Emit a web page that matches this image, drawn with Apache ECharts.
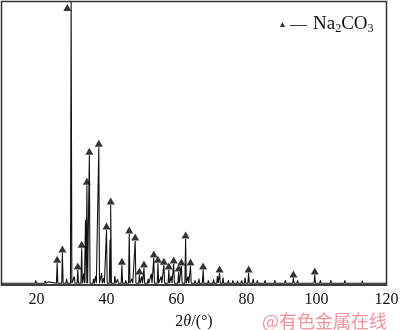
<!DOCTYPE html>
<html>
<head>
<meta charset="utf-8">
<script src="https://cdn.jsdelivr.net/npm/echarts@6/dist/echarts.min.js"></script>
<style>
html, body { margin: 0; padding: 0; background: #fff; }
#chart { width: 400px; height: 330px; }
</style>
</head>
<body>
<div id="chart"></div>
<script>
// Na2CO3 reflections, 2theta in degrees, intensity in % of frame height
var peakAngles = [25.9, 27.4, 29.9, 31.8, 32.9, 34.0, 34.4, 35.1, 37.8, 40.0, 41.0, 41.2, 44.4, 46.5, 48.2, 49.4, 50.7, 53.5, 54.7, 56.4, 57.8, 59.2, 60.6, 61.4, 62.6, 64.0, 67.6, 72.3, 80.6, 93.4, 99.5];
var peakHeights = [7.7, 11.3, 100, 5.3, 13.0, 23.0, 35.2, 45.8, 48.6, 19.4, 16.0, 28.2, 7.0, 18.0, 15.5, 3.5, 6.0, 9.5, 7.7, 7.0, 5.3, 7.4, 4.6, 6.7, 16.2, 6.7, 5.3, 4.2, 4.2, 2.5, 3.5];

// triangle markers (the one for the strongest line sits just left of it, inside the frame)
var markAngles = [25.9, 27.4, 28.8, 31.8, 32.9, 34.4, 35.1, 37.8, 40.0, 41.2, 44.4, 46.5, 48.2, 49.4, 50.7, 53.5, 54.7, 56.4, 57.8, 59.2, 60.6, 61.4, 62.6, 64.0, 67.6, 72.3, 80.6, 93.4, 99.5];
var markHeights = [7.7, 11.3, 96.5, 5.3, 13.0, 35.2, 45.8, 48.6, 19.4, 28.2, 7.0, 18.0, 15.5, 3.5, 6.0, 9.5, 7.7, 7.0, 5.3, 7.4, 4.6, 6.7, 16.2, 6.7, 5.3, 4.2, 4.2, 2.5, 3.5];

// small background bumps
var minorAngles = [12.5, 14.8, 16.4, 18.2, 19.8, 21.0, 22.5, 23.4, 28.6, 30.8, 33.5, 36.3, 36.9, 38.6, 39.2, 42.4, 43.2, 45.5, 47.3, 50.1, 51.9, 52.8, 55.6, 58.5, 63.3, 65.3, 66.4, 69.1, 70.6, 71.7, 73.3, 74.8, 76.1, 77.4, 78.6, 79.6, 81.9, 83.1, 84.4, 85.3, 86.6, 88.1, 89.6, 91.1, 92.4, 94.6, 96.1, 97.6, 101.1, 102.6, 104.1, 106.2, 108.1, 110.2, 113.1, 116.2];
var minorHeights = [0.8, 0.7, 1.3, 0.9, 1.6, 0.8, 1.5, 1.1, 2.2, 3.0, 4.0, 2.2, 3.2, 4.2, 2.4, 3.2, 2.0, 1.6, 2.2, 3.0, 2.2, 4.0, 3.0, 3.2, 3.0, 1.6, 2.2, 1.6, 2.0, 3.2, 2.6, 1.6, 1.6, 1.4, 1.6, 2.6, 2.2, 1.6, 1.2, 1.6, 1.2, 1.6, 1.3, 1.6, 1.3, 1.6, 1.1, 1.3, 1.6, 1.1, 1.6, 1.1, 1.6, 1.1, 1.4, 1.1];

var baseLevel = 0.6;
var halfWidth = 0.2;

var allPeaks = [];
for (var i = 0; i < peakAngles.length; i++) allPeaks.push([peakAngles[i], peakHeights[i]]);
for (var j = 0; j < minorAngles.length; j++) allPeaks.push([minorAngles[j], minorHeights[j]]);
allPeaks.sort(function (a, b) { return a[0] - b[0]; });

var pattern = [[10, baseLevel]];
allPeaks.forEach(function (p) {
    pattern.push([p[0] - halfWidth, baseLevel]);
    pattern.push([p[0], p[1]]);
    pattern.push([p[0] + halfWidth, baseLevel]);
});
pattern.push([120, baseLevel]);

var marks = [];
for (var k = 0; k < markAngles.length; k++) marks.push([markAngles[k], markHeights[k]]);

var chart = echarts.init(document.getElementById('chart'));
var serif = 'Liberation Serif';

chart.setOption({
    animation: false,
    grid: {
        left: 1.5, right: 13.5, top: 1.5, bottom: 45,
        outerBoundsMode: 'none',
        show: true, borderColor: '#333', borderWidth: 1.5
    },
    legend: {
        left: 280, top: 15, padding: 0,
        icon: 'triangle',
        itemWidth: 5, itemHeight: 5, itemGap: 4,
        data: [{ name: 'Na2CO3', itemStyle: { color: '#000' } }],
        formatter: '{d|—}{n|Na}{s|2}{n|CO}{s|3}',
        textStyle: {
            rich: {
                d: { fontFamily: serif, fontSize: 17, color: '#111', padding: [0, 6, 0, 0] },
                n: { fontFamily: serif, fontSize: 19, color: '#111' },
                s: { fontFamily: serif, fontSize: 12, color: '#111', padding: [9, 0, 0, 0] }
            }
        }
    },
    xAxis: {
        type: 'value',
        min: 10, max: 120, interval: 10,
        axisLine: { show: true, lineStyle: { color: '#333', width: 1.5 } },
        axisTick: { show: false },
        splitLine: { show: false },
        axisLabel: {
            margin: 7,
            fontFamily: serif, fontSize: 16, color: '#111',
            formatter: function (v) { return (v % 20 === 0 && v > 10) ? String(v) : ''; }
        },
        name: '{n|2}{i|θ}{n|/(°)}',
        nameLocation: 'middle',
        nameGap: 29,
        nameTextStyle: {
            rich: {
                n: { fontFamily: serif, fontSize: 16, color: '#111' },
                i: { fontFamily: serif, fontSize: 16, fontStyle: 'italic', color: '#111' }
            }
        }
    },
    yAxis: {
        type: 'value',
        min: 0, max: 100,
        axisLine: { show: false },
        axisTick: { show: false },
        axisLabel: { show: false },
        splitLine: { show: false }
    },
    series: [
        {
            name: 'pattern',
            type: 'line',
            data: pattern,
            showSymbol: false,
            sampling: null,
            clip: true,
            lineStyle: { color: '#111', width: 1.1 },
            z: 2
        },
        {
            name: 'Na2CO3',
            type: 'scatter',
            data: marks,
            symbol: 'triangle',
            symbolSize: [8, 7],
            symbolOffset: [0, -4],
            itemStyle: { color: '#000' },
            z: 3
        }
    ],
    graphic: [{
        type: 'text',
        left: 262, top: 312,
        style: {
            text: '@有色金属在线',
            fontFamily: 'Noto Sans CJK SC',
            fontSize: 18,
            fill: '#f0959b'
        }
    }]
});
</script>
</body>
</html>
